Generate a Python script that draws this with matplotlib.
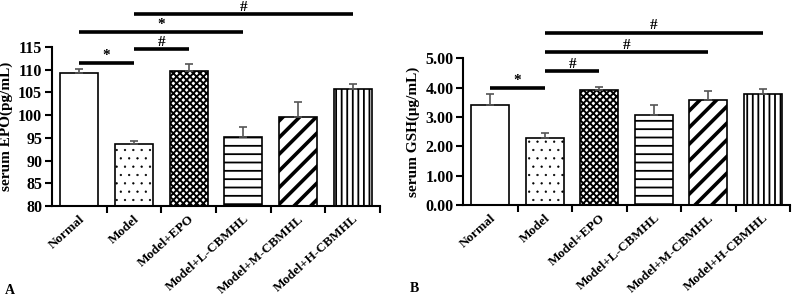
import matplotlib.pyplot as plt

plt.rcParams['font.family'] = ['Liberation Serif', 'DejaVu Serif']
plt.rcParams['font.weight'] = 'bold'

groups = ['Normal', 'Model', 'Model+EPO', 'Model+L-CBMHL', 'Model+M-CBMHL', 'Model+H-CBMHL']
hatches = ['', '..', 'xxxxx', '--', '//', '|||']
hatch_lw = [1, 0.4, 1.4, 1.3, 2.6, 1.3]

epo = [109.2, 93.6, 109.8, 95.3, 99.6, 105.7]
epo_err = [1.0, 0.7, 1.4, 2.0, 3.2, 1.1]
epo_sig = [(0, 1, 111.6, '*'), (1, 2, 114.5, '#'), (0, 3, 118.4, '*'), (1, 5, 122.2, '#')]

gsh = [3.41, 2.27, 3.92, 3.07, 3.58, 3.80]
gsh_err = [0.39, 0.20, 0.09, 0.33, 0.29, 0.14]
gsh_sig = [(0, 1, 4.00, '*'), (1, 2, 4.56, '#'), (1, 4, 5.21, '#'), (1, 5, 5.86, '#')]

fig = plt.figure(figsize=(8, 3.02), dpi=100)
ax1 = fig.add_axes([0.065, 0.318, 0.41, 0.526])
ax2 = fig.add_axes([0.579, 0.321, 0.4085, 0.486])


def panel(ax, vals, errs, sigs, ylim, ticks, ticklabels, ylabel, sig_off):
    x = list(range(len(vals)))
    bars = ax.bar(x, [v - ylim[0] for v in vals], bottom=ylim[0], width=0.7,
                  color='white', edgecolor='black', linewidth=1.2)
    for b, h, lw in zip(bars, hatches, hatch_lw):
        b.set_hatch(h)
        if hasattr(b, 'set_hatch_linewidth'):
            b.set_hatch_linewidth(lw)
    ax.errorbar(x, vals, yerr=[[0] * len(vals), errs], fmt='none',
                ecolor='#555555', elinewidth=1.2, capsize=3, capthick=1.2)
    for a, b, y, s in sigs:
        ax.plot([a, b], [y, y], color='black', lw=2.6, clip_on=False,
                solid_capstyle='butt')
        ax.text((a + b) / 2, y + sig_off, s, ha='center', va='bottom',
                fontsize=11, fontweight='bold', clip_on=False)
    ax.set_xlim(-0.5, len(vals) - 0.5)
    ax.set_ylim(*ylim)
    ax.set_yticks(ticks)
    ax.set_yticklabels(ticklabels, fontsize=11.5, fontweight='bold')
    ax.set_xticks(x)
    ax.set_xticklabels(groups, rotation=42, ha='right', va='top',
                       rotation_mode='anchor', fontsize=9.5, fontweight='bold')
    ax.set_xticks([i + 0.5 for i in x], minor=True)
    ax.tick_params(axis='x', which='major', length=0, pad=5)
    ax.tick_params(axis='x', which='minor', length=5, width=1.5, direction='out')
    ax.tick_params(axis='y', length=5, width=1.5, direction='out', pad=2)
    ax.set_ylabel(ylabel, fontsize=11, fontweight='bold', labelpad=4)
    for side in ['top', 'right']:
        ax.spines[side].set_visible(False)
    for side in ['left', 'bottom']:
        ax.spines[side].set_linewidth(1.5)


panel(ax1, epo, epo_err, epo_sig, (80, 115), list(range(80, 116, 5)),
      [str(t) for t in range(80, 116, 5)], 'serum EPO(pg/mL)', 0.1)
panel(ax2, gsh, gsh_err, gsh_sig, (0, 5), [0, 1, 2, 3, 4, 5],
      ['0.00', '1.00', '2.00', '3.00', '4.00', '5.00'], 'serum GSH(μg/mL)', 0.02)

fig.text(5 / 800, 1 - 290 / 302, 'A', fontsize=10, fontweight='bold', va='center')
fig.text(410 / 800, 1 - 288 / 302, 'B', fontsize=10, fontweight='bold', va='center')

fig.savefig('out.png', dpi=100)
